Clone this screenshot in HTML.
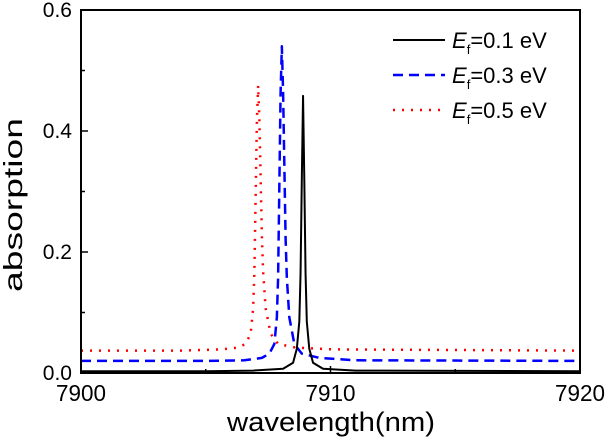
<!DOCTYPE html>
<html><head><meta charset="utf-8"><style>
html,body{margin:0;padding:0;background:#fff;}
svg{display:block;font-family:"Liberation Sans",Arial,sans-serif;}
</style></head><body>
<svg id="chart" width="605" height="441" viewBox="0 0 605 441">
<g id="series"></g>
<rect x="81" y="10" width="499" height="363" fill="none" stroke="#000" stroke-width="2"/>
<g id="axes"></g>
<text x="331" y="431" font-size="27" text-anchor="middle" textLength="208" lengthAdjust="spacingAndGlyphs">wavelength(nm)</text>
<text transform="translate(22,205) rotate(-90)" font-size="26" text-anchor="middle" textLength="174" lengthAdjust="spacingAndGlyphs">absorption</text>
<g>
<line x1="393" y1="40" x2="445" y2="40" stroke="#000" stroke-width="2"/>
<text x="452" y="48" font-size="22"><tspan font-style="italic">E</tspan><tspan font-size="13" dy="6">f</tspan><tspan dy="-6">=0.1 eV</tspan></text>
<line x1="393" y1="75" x2="445" y2="75" stroke="#0000ff" stroke-width="2.5" stroke-dasharray="10,6"/>
<text x="452" y="83" font-size="22"><tspan font-style="italic">E</tspan><tspan font-size="13" dy="6">f</tspan><tspan dy="-6">=0.3 eV</tspan></text>
<line x1="393" y1="110" x2="445" y2="110" stroke="#ff0000" stroke-width="2.5" stroke-dasharray="2,7"/>
<text x="452" y="118" font-size="22"><tspan font-style="italic">E</tspan><tspan font-size="13" dy="6">f</tspan><tspan dy="-6">=0.5 eV</tspan></text>
</g>
</svg>
<script>
const xTicks=[7900,7910,7920];
const xMinor=[7905,7915];
const yTicks=[0.0,0.2,0.4,0.6];
const yTickLabels=["0.0","0.2","0.4","0.6"];
const yMinor=[0.1,0.3,0.5];
const blackX=[7900,7905,7906.9,7908.1,7908.5,7908.65,7908.75,7908.8,7908.85,7908.9,7908.95,7909,7909.05,7909.15,7909.3,7909.7,7911,7920];
const blackY=[0.003,0.003,0.004,0.007,0.017,0.04,0.085,0.165,0.32,0.458,0.32,0.165,0.085,0.04,0.017,0.007,0.004,0.003];
const blueX=[7900,7905,7906.55,7907.25,7907.55,7907.75,7907.85,7907.9,7908,7908.05,7908.1,7908.2,7908.25,7908.35,7908.55,7908.85,7909.55,7911,7920];
const blueY=[0.02,0.02,0.021,0.025,0.032,0.048,0.092,0.157,0.464,0.54,0.464,0.223,0.157,0.092,0.048,0.032,0.025,0.021,0.02];
const redX=[7900,7904,7905.6,7906.3,7906.6,7906.8,7906.9,7906.95,7907.05,7907.1,7907.15,7907.25,7907.3,7907.4,7907.6,7907.9,7908.6,7910.1,7920];
const redY=[0.037,0.037,0.039,0.042,0.048,0.065,0.107,0.167,0.418,0.475,0.418,0.225,0.167,0.107,0.065,0.048,0.042,0.039,0.037];
const X=v=>81+(v-7900)*(499/20);
const Y=v=>373-v*(363/0.6);
const NS="http://www.w3.org/2000/svg";
const axes=document.getElementById('axes');
function mk(tag,attrs,parent){const e=document.createElementNS(NS,tag);for(const k in attrs)e.setAttribute(k,attrs[k]);parent.appendChild(e);return e;}
xTicks.forEach(t=>{
 const l=mk('line',{x1:X(t),x2:X(t),y1:373,y2:366,stroke:'#000','stroke-width':1.5},axes);
 
 
 const tx=mk('text',{x:X(t),y:401,'font-size':23,'text-anchor':'middle',textLength:50,lengthAdjust:'spacingAndGlyphs'},axes);
 tx.textContent=t;
 
 
});
xMinor.forEach(t=>{
 const l=mk('line',{x1:X(t),x2:X(t),y1:373,y2:369,stroke:'#000','stroke-width':1.5},axes);
 
 
});
yTicks.forEach((t,i)=>{
 const l=mk('line',{x1:81,x2:88,y1:Y(t),y2:Y(t),stroke:'#000','stroke-width':1.5},axes);
 
 
 const tx=mk('text',{x:72,y:Y(t)+7,'font-size':21,'text-anchor':'end'},axes);
 tx.textContent=yTickLabels[i];
 
 
});
yMinor.forEach(t=>{
 const l=mk('line',{x1:81,x2:85,y1:Y(t),y2:Y(t),stroke:'#000','stroke-width':1.5},axes);
 
 
});
const sg=document.getElementById('series');
function line(xs,ys,color,w,dash,name){
 const d=xs.map((x,i)=>(i?'L':'M')+X(x).toFixed(2)+','+Y(ys[i]).toFixed(2)).join('');
 const p=mk('path',{d:d,fill:'none',stroke:color,'stroke-width':w,'stroke-linejoin':'round'},sg);
 if(dash)p.setAttribute('stroke-dasharray',dash);
 
 
}
line(redX,redY,'#ff0000',2.5,'2,7','series-ef-0.5ev');
line(blueX,blueY,'#0000ff',2.5,'10,6','series-ef-0.3ev');
line(blackX,blackY,'#000',2,null,'series-ef-0.1ev');
</script>
</body></html>
